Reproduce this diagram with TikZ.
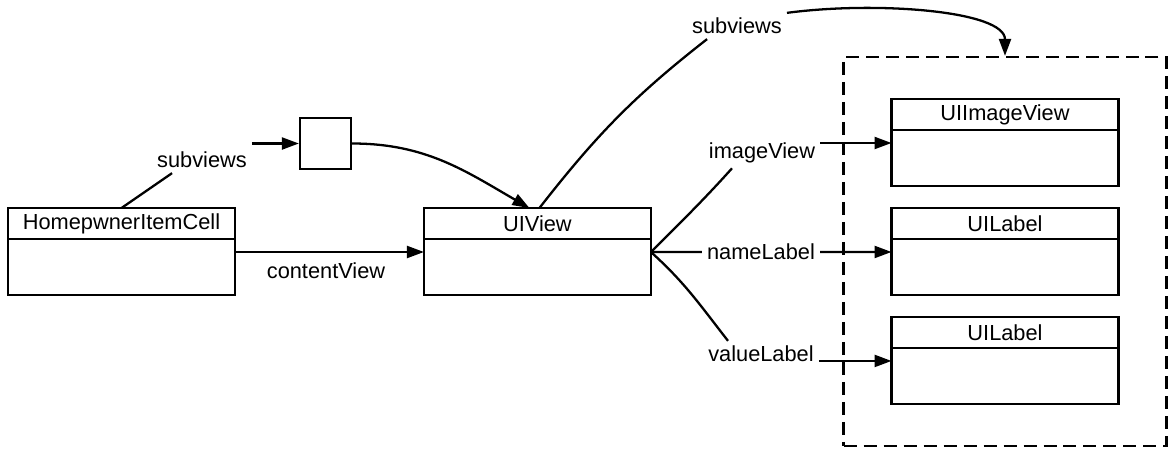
\documentclass[tikz,border=0pt]{standalone}
\usepackage{fontspec}
\setmainfont{Liberation Sans}
\usetikzlibrary{arrows.meta, positioning, fit}

\begin{document}
\begin{tikzpicture}[
    x=0.02cm, y=-0.02cm,
    font=\fontsize{12.4}{15}\selectfont,
    line width=1.3pt,
    head/.style={draw, minimum width=4.54cm, minimum height=0.62cm, inner sep=0pt, outer sep=0pt},
    body/.style={draw, minimum width=4.54cm, minimum height=1.12cm, inner sep=0pt, outer sep=0pt},
    lbl/.style={inner sep=0.08cm},
    arrow/.style={-{Triangle[length=0.34cm, width=0.24cm]}},
    group/.style={draw, dash pattern=on 0.26cm off 0.14cm, inner xsep=0.96cm, inner ysep=0.84cm}
]
\useasboundingbox (0,0) rectangle (1176,450);

% Cell and its content view
\node[head] (cellhead) at (121.5,223.5) {HomepwnerItemCell};
\node[body, below=0pt of cellhead] (cellbody) {};
\node[head, right=3.78cm of cellhead] (uihead) {UIView};
\node[body, below=0pt of uihead] (uibody) {};

% Subviews array of the cell
\node[draw, minimum size=1.02cm, inner sep=0pt] (array) at (325.5,143.5) {};

% Subviews of the content view
\node[head] (imghead) at (1005,114.5) {UIImageView};
\node[body, below=0pt of imghead] (imgbody) {};
\node[head, below=0.44cm of imgbody] (namehead) {UILabel};
\node[body, below=0pt of namehead] (namebody) {};
\node[head, below=0.44cm of namebody] (valuehead) {UILabel};
\node[body, below=0pt of valuehead] (valuebody) {};
\node[group, fit=(imghead) (valuebody)] (subgroup) {};

% Attachment points
\coordinate (cellout) at ([yshift=-0.26cm]cellbody.north east);
\coordinate (uiin) at ([yshift=-0.26cm]uibody.north west);
\coordinate (uiout) at ([yshift=-0.26cm]uibody.north east);
\coordinate (imgin) at ([yshift=-0.26cm]imgbody.north west);
\coordinate (namein) at ([yshift=-0.26cm]namebody.north west);
\coordinate (valuein) at ([yshift=-0.26cm]valuebody.north west);

% Labels
\node[lbl] (subv1) at (202,160) {subviews};
\node[lbl] (content) at (326,271) {contentView};
\node[lbl] (subv2) at (737,26) {subviews};
\node[lbl] (imgv) at (762,153) {imageView};
\node[lbl] (namev) at (761,252) {nameLabel};
\node[lbl] (valuev) at (761,354) {valueLabel};

% Arrows
\draw (cellhead.north) -- ([xshift=0.4cm]subv1.south west);
\draw[arrow] (subv1.east |- array.west) -- (array.west);
\draw[arrow] (array.east) to[out=0, in=150] ([xshift=-0.16cm]uihead.north);
\draw[arrow] (cellout) -- (uiin);
\draw ([xshift=0.04cm]uihead.north) to[out=52, in=218] ([xshift=0.4cm]subv2.south west);
\draw[arrow] (subv2.north east) .. controls +(90,-12) and +(0,-45) .. (subgroup.north);
\draw (uiout) to[out=45, in=228] ([xshift=-0.6cm]imgv.south);
\draw (uiout) -- (namev.west);
\draw (uiout) to[out=-42, in=128] ([xshift=-0.66cm]valuev.north);
\draw[arrow] (imgv.east |- imgin) -- (imgin);
\draw[arrow] (namev.east) -- (namein);
\draw[arrow] (valuev.east |- valuein) -- (valuein);
\end{tikzpicture}
\end{document}
